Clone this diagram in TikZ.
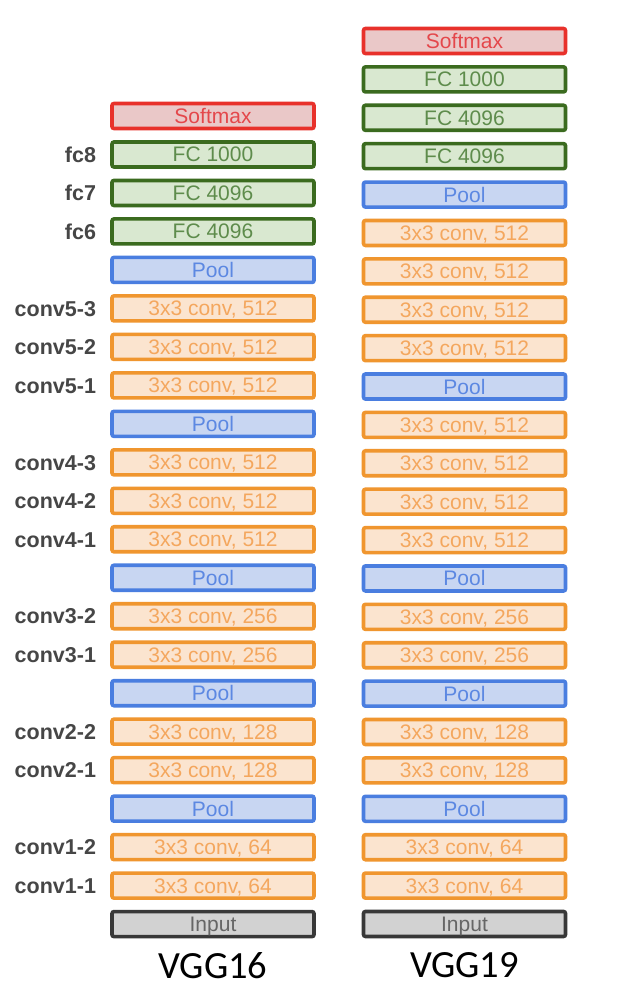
\documentclass[tikz,border=0pt]{standalone}
\usepackage{fontspec}
\usetikzlibrary{positioning}
\setmainfont{Liberation Sans}
\newfontfamily\titlefont{Carlito}
\definecolor{smBorder}{HTML}{E8312B}
\definecolor{smFill}{HTML}{EAC8C8}
\definecolor{smText}{HTML}{E4474B}
\definecolor{fcBorder}{HTML}{3B6B1F}
\definecolor{fcFill}{HTML}{D9E8D0}
\definecolor{fcText}{HTML}{5E8C4C}
\definecolor{plBorder}{HTML}{4A7EE0}
\definecolor{plFill}{HTML}{C8D6F2}
\definecolor{plText}{HTML}{5C88E2}
\definecolor{cvBorder}{HTML}{F0962F}
\definecolor{cvFill}{HTML}{FBE4CF}
\definecolor{cvText}{HTML}{F4A75E}
\definecolor{inBorder}{HTML}{383838}
\definecolor{inFill}{HTML}{D2D2D2}
\definecolor{inText}{HTML}{666666}
\definecolor{labText}{HTML}{464646}
\tikzset{
  layer/.style={rectangle, rounded corners=2pt, line width=3.6pt,
    minimum width=202pt, minimum height=25pt, inner sep=0pt,
    text height=17.5pt, text depth=2.5pt,
    font=\fontsize{21}{21}\selectfont},
  softmax/.style={layer, draw=smBorder, fill=smFill, text=smText},
  fc/.style={layer, draw=fcBorder, fill=fcFill, text=fcText},
  pool/.style={layer, draw=plBorder, fill=plFill, text=plText},
  conv/.style={layer, draw=cvBorder, fill=cvFill, text=cvText},
  input/.style={layer, draw=inBorder, fill=inFill, text=inText},
  laylabel/.style={anchor=east, inner sep=0pt, text=labText,
    text height=15.5pt, text depth=0pt,
    font=\fontsize{21.5}{21.5}\selectfont\bfseries},
  nettitle/.style={inner sep=0pt, font=\titlefont\fontsize{38.5}{38.5}\selectfont}
}
\begin{document}
\begin{tikzpicture}[x=1pt,y=-1pt]
\useasboundingbox[fill=white] (0,0) rectangle (616,990);
% VGG16 column
\foreach \s/\t [count=\i from 0] in {
  softmax/Softmax, fc/FC 1000, fc/FC 4096, fc/FC 4096, pool/Pool,
  conv/{3x3 conv, 512}, conv/{3x3 conv, 512}, conv/{3x3 conv, 512}, pool/Pool,
  conv/{3x3 conv, 512}, conv/{3x3 conv, 512}, conv/{3x3 conv, 512}, pool/Pool,
  conv/{3x3 conv, 256}, conv/{3x3 conv, 256}, pool/Pool,
  conv/{3x3 conv, 128}, conv/{3x3 conv, 128}, pool/Pool,
  conv/{3x3 conv, 64}, conv/{3x3 conv, 64}, input/Input}
  \node[\s] (l\i) at (213, 116+38.48*\i) {\t};
% VGG19 column
\foreach \s/\t [count=\i from 0] in {
  softmax/Softmax, fc/FC 1000, fc/FC 4096, fc/FC 4096, pool/Pool,
  conv/{3x3 conv, 512}, conv/{3x3 conv, 512}, conv/{3x3 conv, 512}, conv/{3x3 conv, 512}, pool/Pool,
  conv/{3x3 conv, 512}, conv/{3x3 conv, 512}, conv/{3x3 conv, 512}, conv/{3x3 conv, 512}, pool/Pool,
  conv/{3x3 conv, 256}, conv/{3x3 conv, 256}, pool/Pool,
  conv/{3x3 conv, 128}, conv/{3x3 conv, 128}, pool/Pool,
  conv/{3x3 conv, 64}, conv/{3x3 conv, 64}, input/Input}
  \node[\s] (r\i) at (464.5, 41+38.39*\i) {\t};
% layer names beside VGG16
\foreach \r/\t in {1/fc8, 2/fc7, 3/fc6, 5/conv5-3, 6/conv5-2, 7/conv5-1,
  9/conv4-3, 10/conv4-2, 11/conv4-1, 13/conv3-2, 14/conv3-1,
  16/conv2-2, 17/conv2-1, 19/conv1-2, 20/conv1-1}
  \node[laylabel] (lab\r) at ([xshift=-14pt]l\r.west) {\t};
% network titles
\node[nettitle, below=14pt of l21] (t16) {VGG16};
\node[nettitle, below=14pt of r23] (t19) {VGG19};
\end{tikzpicture}
\end{document}
